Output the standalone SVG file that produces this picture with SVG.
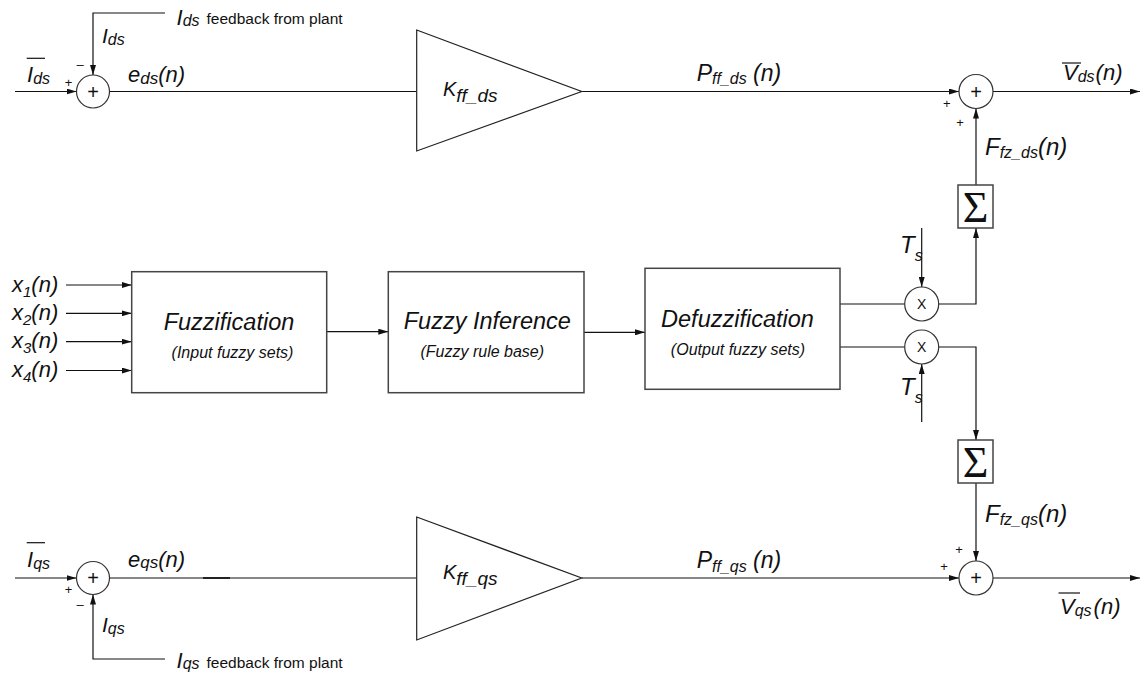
<svg xmlns="http://www.w3.org/2000/svg" width="1141" height="679" viewBox="0 0 1141 679">
  <style>
    .ln { fill: none; stroke: #111; stroke-width: 1.2; }
    .arr { fill: none; stroke: #111; stroke-width: 1.2; marker-end: url(#ah); }
    .box { fill: #fff; stroke: #444; stroke-width: 1.5; }
    .tri { fill: #fff; stroke: #222; stroke-width: 1.2; }
    .jn { fill: #fff; stroke: #333; stroke-width: 1.2; }
    .lbl { font-family: "Liberation Sans", Arial, sans-serif; font-style: italic; fill: #111; }
    .up { font-family: "Liberation Sans", Arial, sans-serif; fill: #111; }
    .sig { font-family: "Liberation Serif", "Times New Roman", serif; fill: #111; }
  </style>
  <defs>
    <marker id="ah" markerUnits="userSpaceOnUse" markerWidth="10" markerHeight="6" refX="10" refY="3" orient="auto">
      <path d="M0,0 L10,3 L0,6 z" fill="#111"/>
    </marker>
  </defs>
  <rect width="1141" height="679" fill="#fff"/>

  <!-- connectors -->
  <g id="connectors">
    <!-- d-axis path -->
    <line class="arr" x1="15" y1="91.5" x2="76.5" y2="91.5"/>
    <polyline class="arr" points="165,13 93,13 93,75"/>
    <line class="ln" x1="109.5" y1="91.5" x2="416.7" y2="91.5"/>
    <line class="arr" x1="581.7" y1="91.5" x2="959" y2="91.5"/>
    <line class="arr" x1="993" y1="91.5" x2="1140" y2="91.5"/>
    <line class="arr" x1="976" y1="185" x2="976" y2="108.5"/>
    <polyline class="arr" points="939,304 976,304 976,228"/>
    <line class="arr" x1="921.7" y1="228" x2="921.7" y2="287"/>
    <line class="ln" x1="840" y1="304" x2="904.7" y2="304"/>
    <!-- q-axis path -->
    <line class="ln" x1="840" y1="347" x2="904.7" y2="347"/>
    <line class="arr" x1="921.7" y1="422" x2="921.7" y2="364"/>
    <polyline class="arr" points="939,347 976,347 976,440"/>
    <line class="arr" x1="976" y1="483" x2="976" y2="561"/>
    <line class="arr" x1="581.7" y1="578" x2="959" y2="578"/>
    <line class="arr" x1="993" y1="578" x2="1140" y2="578"/>
    <line class="ln" x1="109.5" y1="578" x2="416.7" y2="578"/>
    <line x1="203" y1="578" x2="230" y2="578" stroke="#222" stroke-width="2"/>
    <line class="arr" x1="15" y1="578" x2="76.5" y2="578"/>
    <polyline class="arr" points="165,659 93,659 93,594.5"/>
    <!-- fuzzy chain -->
    <line class="arr" x1="66" y1="285" x2="131.7" y2="285"/>
    <line class="arr" x1="66" y1="313.3" x2="131.7" y2="313.3"/>
    <line class="arr" x1="66" y1="341.7" x2="131.7" y2="341.7"/>
    <line class="arr" x1="66" y1="370.5" x2="131.7" y2="370.5"/>
    <line class="arr" x1="326.7" y1="331.7" x2="388.3" y2="331.7"/>
    <line class="arr" x1="584" y1="332.3" x2="645" y2="332.3"/>
  </g>

  <!-- summing junction, d-axis error -->
  <g id="sum_err_d">
    <circle class="jn" cx="93" cy="91.5" r="16.5"/>
    <text class="up" x="93" y="98.5" font-size="20" text-anchor="middle">+</text>
    <text class="up" x="68.5" y="87" font-size="13" text-anchor="middle">+</text>
    <text class="up" x="80" y="69" font-size="13" text-anchor="middle">–</text>
  </g>

  <!-- summing junction, q-axis error -->
  <g id="sum_err_q">
    <circle class="jn" cx="93" cy="578" r="16.5"/>
    <text class="up" x="93" y="585" font-size="20" text-anchor="middle">+</text>
    <text class="up" x="68.5" y="594" font-size="13" text-anchor="middle">+</text>
    <text class="up" x="80" y="609" font-size="13" text-anchor="middle">–</text>
  </g>

  <!-- feed-forward gains -->
  <g id="gain_d">
    <polygon class="tri" points="416.7,30 581.7,91.5 416.7,151"/>
    <text class="lbl" x="443" y="96" font-size="20">K<tspan font-size="19" dy="6">ff_ds</tspan></text>
  </g>
  <g id="gain_q">
    <polygon class="tri" points="416.7,517 581.7,578 416.7,640"/>
    <text class="lbl" x="443" y="578.5" font-size="20">K<tspan font-size="19" dy="6">ff_qs</tspan></text>
  </g>

  <!-- output summing junctions -->
  <g id="sum_out_d">
    <circle class="jn" cx="976" cy="91.5" r="17"/>
    <text class="up" x="976" y="98.5" font-size="20" text-anchor="middle">+</text>
    <text class="up" x="946.7" y="108" font-size="13" text-anchor="middle">+</text>
    <text class="up" x="960" y="127" font-size="13" text-anchor="middle">+</text>
  </g>
  <g id="sum_out_q">
    <circle class="jn" cx="976" cy="578" r="17"/>
    <text class="up" x="976" y="585" font-size="20" text-anchor="middle">+</text>
    <text class="up" x="959" y="554" font-size="13" text-anchor="middle">+</text>
    <text class="up" x="944" y="571" font-size="13" text-anchor="middle">+</text>
  </g>

  <!-- accumulators -->
  <g id="accum_d">
    <rect class="box" x="958" y="185" width="35" height="43"/>
    <text class="sig" x="975.5" y="221.5" font-size="44" text-anchor="middle">Σ</text>
  </g>
  <g id="accum_q">
    <rect class="box" x="958" y="440" width="35" height="43"/>
    <text class="sig" x="975.5" y="476.5" font-size="44" text-anchor="middle">Σ</text>
  </g>

  <!-- sample-time multipliers -->
  <g id="mult_d">
    <circle class="jn" cx="921.7" cy="304" r="17"/>
    <text class="up" x="921.7" y="309" font-size="14" text-anchor="middle">X</text>
  </g>
  <g id="mult_q">
    <circle class="jn" cx="921.7" cy="347" r="17"/>
    <text class="up" x="921.7" y="352" font-size="14" text-anchor="middle">X</text>
  </g>

  <!-- fuzzy controller blocks -->
  <g id="fuzzification">
    <rect class="box" x="131.7" y="271.7" width="195" height="121"/>
    <text class="lbl" x="229" y="330" font-size="23.5" text-anchor="middle">Fuzzification</text>
    <text class="lbl" x="232.5" y="358" font-size="16" text-anchor="middle">(Input fuzzy sets)</text>
  </g>
  <g id="inference">
    <rect class="box" x="388.3" y="271.7" width="195.7" height="121"/>
    <text class="lbl" x="487.3" y="329" font-size="23.5" text-anchor="middle">Fuzzy Inference</text>
    <text class="lbl" x="482.3" y="356.7" font-size="16" text-anchor="middle">(Fuzzy rule base)</text>
  </g>
  <g id="defuzzification">
    <rect class="box" x="645" y="268.3" width="195" height="121"/>
    <text class="lbl" x="737.5" y="327" font-size="23.5" text-anchor="middle">Defuzzification</text>
    <text class="lbl" x="738" y="355" font-size="16" text-anchor="middle">(Output fuzzy sets)</text>
  </g>

  <!-- signal labels -->
  <g id="labels">
    <text class="lbl" x="27" y="82" font-size="22">I<tspan font-size="16" dy="2">ds</tspan></text>
    <line x1="26.7" y1="58.3" x2="45" y2="58.3" stroke="#111" stroke-width="1.2"/>
    <text class="lbl" x="102" y="43" font-size="21">I<tspan font-size="16" dy="2">ds</tspan></text>
    <text class="lbl" x="176.5" y="25" font-size="22">I<tspan font-size="16" dy="1">ds</tspan><tspan class="up" font-style="normal" font-size="15.5" dx="7" dy="-2">feedback from plant</tspan></text>
    <text class="lbl" x="128" y="81.7" font-size="22">e<tspan font-size="17" dy="2">ds</tspan><tspan dy="-2">(n)</tspan></text>
    <text class="lbl" x="696.7" y="80.7" font-size="23">P<tspan font-size="16" dy="3.5">ff_ds</tspan><tspan dy="-3.5"> (n)</tspan></text>
    <text class="lbl" x="1063" y="79.5" font-size="22">V<tspan font-size="16" dy="2">ds</tspan><tspan dx="1" dy="-2">(n)</tspan></text>
    <line x1="1062" y1="63" x2="1081" y2="63" stroke="#111" stroke-width="1.2"/>
    <text class="lbl" x="985" y="155" font-size="24">F<tspan font-size="16" dy="3">fz_ds</tspan><tspan dy="-3">(n)</tspan></text>
    <text class="lbl" x="900" y="253.3" font-size="24">T<tspan font-size="16" dy="8">s</tspan></text>
    <text class="lbl" x="900" y="395" font-size="24">T<tspan font-size="16" dy="8">s</tspan></text>
    <text class="lbl" x="12" y="291.7" font-size="22">x<tspan font-size="15" dy="5">1</tspan><tspan dy="-5">(n)</tspan></text>
    <text class="lbl" x="12" y="320" font-size="22">x<tspan font-size="15" dy="5">2</tspan><tspan dy="-5">(n)</tspan></text>
    <text class="lbl" x="12" y="348.3" font-size="22">x<tspan font-size="15" dy="5">3</tspan><tspan dy="-5">(n)</tspan></text>
    <text class="lbl" x="12" y="376.5" font-size="22">x<tspan font-size="15" dy="5">4</tspan><tspan dy="-5">(n)</tspan></text>
    <text class="lbl" x="985" y="521.7" font-size="24">F<tspan font-size="16" dy="3">fz_qs</tspan><tspan dy="-3">(n)</tspan></text>
    <text class="lbl" x="696.7" y="568" font-size="23">P<tspan font-size="16" dy="3.5">ff_qs</tspan><tspan dy="-3.5"> (n)</tspan></text>
    <text class="lbl" x="1060" y="614" font-size="22">V<tspan font-size="16" dy="2">qs</tspan><tspan dx="2" dy="-2">(n)</tspan></text>
    <line x1="1058.5" y1="593" x2="1080" y2="593" stroke="#111" stroke-width="1.2"/>
    <text class="lbl" x="27" y="567" font-size="22">I<tspan font-size="16" dy="1.5">qs</tspan></text>
    <line x1="26.7" y1="542.7" x2="45" y2="542.7" stroke="#111" stroke-width="1.2"/>
    <text class="lbl" x="128" y="566.7" font-size="22">e<tspan font-size="17" dy="1.5">qs</tspan><tspan dy="-1.5">(n)</tspan></text>
    <text class="lbl" x="102" y="632" font-size="21">I<tspan font-size="16" dy="2">qs</tspan></text>
    <text class="lbl" x="176.5" y="668" font-size="22">I<tspan font-size="16" dy="1">qs</tspan><tspan class="up" font-style="normal" font-size="15.5" dx="7" dy="-1">feedback from plant</tspan></text>
  </g>
</svg>
